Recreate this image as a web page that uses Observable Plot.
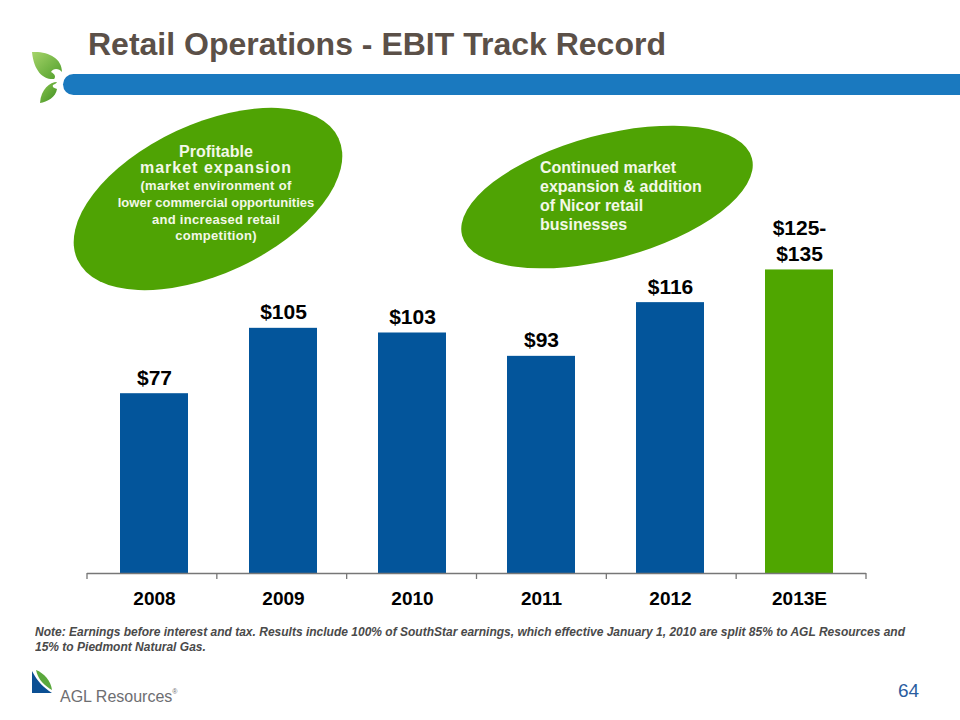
<!DOCTYPE html>
<html>
<head>
<meta charset="utf-8">
<script src="https://cdn.jsdelivr.net/npm/d3@7"></script>
<script src="https://cdn.jsdelivr.net/npm/@observablehq/plot@0.6"></script>
<style>
  html, body { margin: 0; padding: 0; background: #ffffff; }
  #slide { position: relative; width: 960px; height: 720px; overflow: hidden; font-family: "Liberation Sans", Arial, sans-serif; }
  #slide > * { position: absolute; }
  #title { left: 88px; top: 28px; font-size: 32px; line-height: 32px; font-weight: bold; color: #5b5048; white-space: nowrap; }
  #note { left: 35px; top: 624px; font-family: "Liberation Sans Narrow", "Liberation Sans", Arial, sans-serif; font-size: 13px; line-height: 15px; font-weight: bold; font-style: italic; color: #4a4a4a; }
  #note span { display: block; white-space: nowrap; transform-origin: 0 0; }
  #brand { left: 60px; top: 684px; font-size: 16px; line-height: 16px; color: #6d6e71; white-space: nowrap; }
  #brand sup { font-size: 7px; vertical-align: 8px; }
  #page { left: 898px; top: 681px; font-size: 19px; line-height: 19px; color: #2a5d9f; }
</style>
</head>
<body>
<div id="slide">
  <svg id="deco" width="960" height="720" style="left:0;top:0">
    <defs>
      <linearGradient id="leafA" x1="0" y1="0" x2="1" y2="1">
        <stop offset="0" stop-color="#a6d46a"/><stop offset="1" stop-color="#4f9e2a"/>
      </linearGradient>
      <linearGradient id="leafB" x1="0" y1="0" x2="1" y2="1">
        <stop offset="0" stop-color="#8cc650"/><stop offset="1" stop-color="#3f8f22"/>
      </linearGradient>
    </defs>
    <rect x="63" y="74" width="920" height="21" rx="10.5" fill="#1a79bf"/>
    <path d="M32,52 C48,51 62,58 62,72 C59,68 53,68 51,72 C55,74 56,77 54,79 C44,80 34,72 32,52 Z" fill="url(#leafA)"/>
    <path d="M57,82 C50,82 41,89 40,103 C47,102 56,97 57,89 C54,88 52,87 53,85 C54,84 56,84 57,82 Z" fill="url(#leafB)"/>
    <path d="M32,671 L32,693 L52,693 C44,688 37,681 32,671 Z" fill="#0b4f93"/>
    <path d="M36,670 C44,673 51,681 52,690 C45,686 38,680 36,670 Z" fill="#5aa83c"/>
  </svg>
  <div id="title">Retail Operations - EBIT Track Record</div>
  <div id="chart" style="left:0;top:0"></div>
  <div id="note"><span id="note1">Note: Earnings before interest and tax. Results include 100% of SouthStar earnings, which effective January 1, 2010 are split 85% to AGL Resources and</span><span id="note2">15% to Piedmont Natural Gas.</span></div>
  <div id="brand">AGL Resources<sup>®</sup></div>
  <div id="page">64</div>
</div>
<script>
// ---- data ----
const years = ["2008", "2009", "2010", "2011", "2012", "2013E"];
const ebit = [77, 105, 103, 93, 116, 130];          // 2013E drawn at midpoint of $125-$135 range
const valueLabels = ["$77", "$105", "$103", "$93", "$116", "$125-\n$135"];
const kinds = ["Actual", "Actual", "Actual", "Actual", "Actual", "Estimate"];

const callout1 = ["Profitable", "market expansion", "(market environment of", "lower commercial opportunities", "and increased retail", "competition)"];
const callout2 = ["Continued market", "expansion & addition", "of Nicor retail", "businesses"];

const data = years.map((y, i) => ({year: y, ebit: ebit[i], label: valueLabels[i], kind: kinds[i]}));

const plot = Plot.plot({
  width: 960,
  height: 720,
  marginLeft: 87,
  marginRight: 94,
  marginTop: 106,
  marginBottom: 147,
  style: {fontFamily: "'Liberation Sans', Arial, sans-serif", background: "transparent", color: "#000"},
  x: {domain: years, paddingInner: 0.476, paddingOuter: 0.238, label: null},
  y: {domain: [0, 200], axis: null},
  color: {domain: ["Actual", "Estimate"], range: ["#03559b", "#4fa600"]},
  marks: [
    Plot.barY(data, {x: "year", y: "ebit", fill: "kind"}),
    Plot.ruleY([0], {stroke: "#777", strokeWidth: 1.3}),
    Plot.text(data, {x: "year", y: "ebit", text: "label", lineAnchor: "bottom", dy: -9,
      fontSize: 21, fontWeight: "bold", fill: "#000", lineHeight: 1.25}),
    Plot.axisX({tickSize: 0, tickPadding: 18, fontSize: 19, fontWeight: "bold", fill: "#000", label: null})
  ]
});
document.getElementById("chart").appendChild(plot);

// condense the note lines to the reference width
const n1 = document.getElementById("note1"), n2 = document.getElementById("note2");
const k = 870 / n1.getBoundingClientRect().width;
n1.style.transform = `scaleX(${k})`;
n2.style.transform = `scaleX(${k})`;

// ticks at band boundaries, positioned from the plot's own x scale
const svg = d3.select(plot);
const sx = plot.scale("x");
const [r0, r1] = sx.range;
const y0 = plot.scale("y").apply(0);
const edges = d3.range(years.length + 1).map(i => r0 + i * (r1 - r0) / years.length);
svg.append("g").selectAll("line").data(edges).join("line")
  .attr("x1", d => d).attr("x2", d => d)
  .attr("y1", y0).attr("y2", y0 + 6)
  .attr("stroke", "#777").attr("stroke-width", 1.3);

// callout ellipses
const g1 = svg.append("g");
g1.append("ellipse").attr("cx", 208).attr("cy", 199).attr("rx", 144).attr("ry", 75)
  .attr("transform", "rotate(-25 208 199)").attr("fill", "#4fa304");
const base1 = [157, 173, 190, 207, 224, 240];
const size1 = [16, 16, 13, 13, 13, 13];
const ls1 = [0, 1, 0.3, 0, 0.3, 0.3];
g1.selectAll("text").data(callout1).join("text")
  .attr("x", 216).attr("y", (d, i) => base1[i])
  .attr("text-anchor", "middle")
  .attr("font-size", (d, i) => size1[i])
  .attr("letter-spacing", (d, i) => ls1[i])
  .attr("font-weight", "bold")
  .attr("fill", "#f3f8e8")
  .text(d => d);

const g2 = svg.append("g");
g2.append("ellipse").attr("cx", 607).attr("cy", 197).attr("rx", 150).attr("ry", 62)
  .attr("transform", "rotate(-15 607 197)").attr("fill", "#4fa304");
g2.selectAll("text").data(callout2).join("text")
  .attr("x", 540).attr("y", (d, i) => 173 + i * 19)
  .attr("text-anchor", "start")
  .attr("font-size", 16)
  .attr("font-weight", "bold")
  .attr("fill", "#f3f8e8")
  .text(d => d);
</script>
</body>
</html>
